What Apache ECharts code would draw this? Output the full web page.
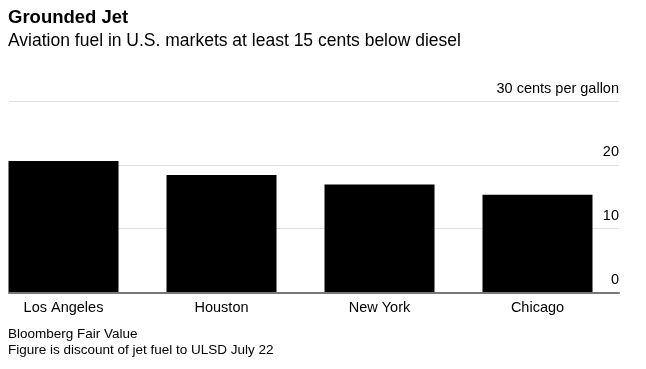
<!DOCTYPE html>
<html>
<head>
<meta charset="utf-8">
<script src="https://cdn.jsdelivr.net/npm/echarts@6/dist/echarts.min.js"></script>
<style>
html,body{margin:0;padding:0;background:#fff;}
#chart{width:646px;height:369px;}
</style>
</head>
<body>
<div id="chart"></div>
<script>
var categories = ["Los Angeles", "Houston", "New York", "Chicago"];
var discountValues = [20.6, 18.4, 16.9, 15.3];
var yTicks = [0, 10, 20, 30];
var yUnit = "cents per gallon";

var FONT = "'Liberation Sans', Arial, sans-serif";
var chart = echarts.init(document.getElementById('chart'), null, {renderer: 'canvas'});
var gridTop = 101, gridBottom = 369 - 292.5;
var option = {
  animation: false,
  backgroundColor: '#fff',
  textStyle: {fontFamily: FONT},
  title: [
    {
      text: 'Grounded Jet',
      subtext: 'Aviation fuel in U.S. markets at least 15 cents below diesel',
      left: 3, top: 3,
      itemGap: 5,
      textStyle: {fontFamily: FONT, fontSize: 18.5, fontWeight: 'bold', color: '#000'},
      subtextStyle: {fontFamily: FONT, fontSize: 17.5, color: '#000'}
    },
    {
      text: 'Bloomberg Fair Value\nFigure is discount of jet fuel to ULSD July 22',
      left: 8, top: 326,
      padding: 0,
      textStyle: {fontFamily: FONT, fontSize: 13.5, fontWeight: 'normal', color: '#000', lineHeight: 16}
    }
  ],
  grid: [
    {left: 9, right: 646 - 619, top: gridTop, bottom: gridBottom, containLabel: false, outerBoundsMode: 'none'},
    {left: -15.5, right: 646 - 616.5, top: gridTop, bottom: gridBottom, containLabel: false, outerBoundsMode: 'none'}
  ],
  xAxis: [
    {
      type: 'category', gridIndex: 0, data: categories,
      axisLabel: {show: false}, axisTick: {show: false},
      axisLine: {show: true, lineStyle: {color: '#777', width: 2}},
      z: 5
    },
    {
      type: 'category', gridIndex: 1, data: categories,
      axisLine: {show: false}, axisTick: {show: false},
      axisLabel: {color: '#000', fontSize: 14.5, fontFamily: FONT, margin: 8}
    }
  ],
  yAxis: [
    {
      type: 'value', gridIndex: 0, position: 'right',
      min: yTicks[0], max: yTicks[yTicks.length - 1], interval: 10,
      axisLine: {show: false}, axisTick: {show: false},
      splitLine: {show: true, lineStyle: {color: '#e0e0e0', width: 1}},
      axisLabel: {
        inside: true, margin: 0, align: 'right', verticalAlign: 'bottom',
        padding: [0, 0, 5, 0],
        color: '#000', fontSize: 14.5, fontFamily: FONT,
        formatter: function (v) { return v === yTicks[yTicks.length - 1] ? v + ' ' + yUnit : String(v); }
      }
    },
    {
      type: 'value', gridIndex: 1, show: false,
      min: yTicks[0], max: yTicks[yTicks.length - 1], interval: 10,
      splitLine: {show: false}
    }
  ],
  series: [
    {
      type: 'bar', xAxisIndex: 1, yAxisIndex: 1,
      data: discountValues, barWidth: 110,
      itemStyle: {color: '#000'},
      z: 2
    }
  ]
};
chart.setOption(option);
</script>
</body>
</html>
